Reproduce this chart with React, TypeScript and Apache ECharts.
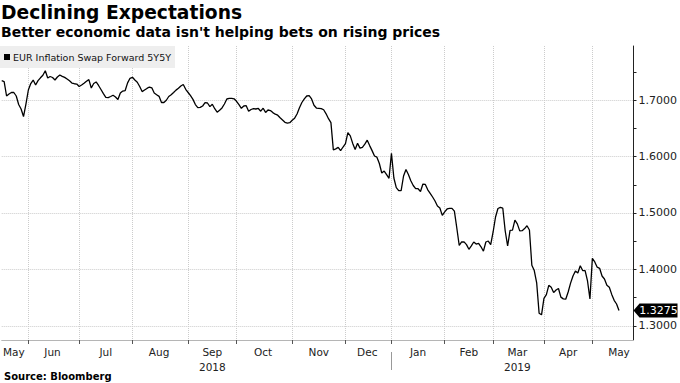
import React, { useEffect, useRef } from 'react';
import * as echarts from 'echarts';

// ---------- data ----------
const SERIES_NAME = 'EUR Inflation Swap Forward 5Y5Y';
const TITLE = 'Declining Expectations';
const SUBTITLE = "Better economic data isn't helping bets on rising prices";
const SOURCE = 'Source: Bloomberg';

const FIRST_DAY = '2018-05-17';
const LAST_AXIS_DAY = '2019-05-27';
const HOLIDAYS = ['2018-12-25', '2018-12-26', '2019-01-01', '2019-04-19', '2019-04-22', '2019-05-01'];
const MONTH_NAMES = ['Jan', 'Feb', 'Mar', 'Apr', 'May', 'Jun', 'Jul', 'Aug', 'Sep', 'Oct', 'Nov', 'Dec'];
const YEAR_LABEL_MONTHS: Record<string, string> = { '2018-09': '2018', '2019-03': '2019' };
const YEAR_BREAK_MONTH = '2019-01';

const Y_MIN = 1.2752;
const Y_MAX = 1.7956;
const Y_LABELS = [1.3, 1.4, 1.5, 1.6, 1.7];
const Y_TICKS = [1.3, 1.35, 1.4, 1.45, 1.5, 1.55, 1.6, 1.65, 1.7, 1.75];

// daily values, one per trading day from 2018-05-17
const valuesMayAug2018 = [
  1.7342, 1.7327, 1.7071, 1.7106, 1.7133, 1.7133, 1.7071, 1.6920, 1.6841, 1.6708,
  1.6929, 1.7177, 1.7292, 1.7354, 1.7265, 1.7342, 1.7393, 1.7439, 1.7519, 1.7389,
  1.7416, 1.7398, 1.7354, 1.7407, 1.7442, 1.7419, 1.7400, 1.7372, 1.7340, 1.7301,
  1.7288, 1.7283, 1.7239, 1.7265, 1.7296, 1.7331, 1.7361, 1.7212, 1.7292, 1.7319,
  1.7257, 1.7186, 1.7113, 1.7048, 1.7042, 1.7062, 1.7085, 1.7053, 1.7009, 1.7124,
  1.7159, 1.7168, 1.7304, 1.7384, 1.7402, 1.7354, 1.7315, 1.7239, 1.7149, 1.7177,
  1.7205, 1.7230, 1.7216, 1.7124, 1.7094, 1.7065,
];
const valuesAugDec2018 = [
  1.6956, 1.6956, 1.6996, 1.7062,
  1.7092, 1.7133, 1.7175, 1.7207, 1.7248, 1.7274, 1.7189, 1.7133, 1.7076, 1.7011,
  1.6919, 1.6865, 1.6869, 1.6894, 1.6952, 1.6947, 1.6883, 1.6924, 1.6846, 1.6784,
  1.6819, 1.6860, 1.6929, 1.7018, 1.7028, 1.7030, 1.7021, 1.6977, 1.6917, 1.6853,
  1.6894, 1.6899, 1.6802, 1.6832, 1.6846, 1.6841, 1.6850, 1.6802, 1.6855, 1.6780,
  1.6823, 1.6814, 1.6777, 1.6749, 1.6731, 1.6685, 1.6646, 1.6605, 1.6591, 1.6598,
  1.6641, 1.6678, 1.6752, 1.6864, 1.6956, 1.7019, 1.7071, 1.7078, 1.7018, 1.6908,
  1.6858, 1.6853, 1.6848, 1.6827, 1.6756, 1.6669, 1.6600, 1.6115, 1.6136, 1.6161,
  1.6104, 1.6168, 1.6228, 1.6423, 1.6365, 1.6232, 1.6124, 1.6234, 1.6149, 1.6163,
  1.6218, 1.6289, 1.6193, 1.6104, 1.6009, 1.5988, 1.5876, 1.5708, 1.5743, 1.5681,
  1.5614,
];
const valuesJanMar2019 = [
  1.6057, 1.5619, 1.5448, 1.5395, 1.5395, 1.5655, 1.5770, 1.5681, 1.5570,
  1.5487, 1.5430, 1.5430, 1.5381, 1.5513, 1.5506, 1.5411, 1.5347, 1.5283, 1.5212,
  1.5124, 1.5089, 1.4958, 1.5021, 1.5071, 1.5083, 1.5083, 1.5032, 1.4735, 1.4425,
  1.4487, 1.4490, 1.4441, 1.4358, 1.4419, 1.4487, 1.4451, 1.4464, 1.4402, 1.4324,
  1.4487, 1.4504, 1.4442, 1.4664, 1.4929, 1.5080, 1.5099, 1.5085, 1.4681, 1.4416,
  1.4694, 1.4696, 1.4874, 1.4807, 1.4683, 1.4687, 1.4724, 1.4774, 1.4699, 1.4076,
  1.3982, 1.3761, 1.3227,
];
const valuesAprMay2019 = [
  1.3198, 1.3490, 1.3556, 1.3720, 1.3685, 1.3591, 1.3637,
  1.3664, 1.3511, 1.3480, 1.3474, 1.3602, 1.3758, 1.3885, 1.3973, 1.3938, 1.4067,
  1.3982, 1.3979, 1.3797, 1.3478, 1.4198, 1.4133, 1.4041, 1.4021, 1.3885, 1.3832,
  1.3722, 1.3685, 1.3559, 1.3455, 1.3389, 1.3275,
];

const FONT = '"DejaVu Sans", "Liberation Sans", sans-serif';

function tradingDays(): string[] {
  const out: string[] = [];
  let t = Date.parse(FIRST_DAY + 'T00:00:00Z');
  const end = Date.parse(LAST_AXIS_DAY + 'T00:00:00Z');
  while (t <= end) {
    const d = new Date(t);
    const dow = d.getUTCDay();
    const s = d.toISOString().slice(0, 10);
    if (dow !== 0 && dow !== 6 && !HOLIDAYS.includes(s)) out.push(s);
    t += 86400000;
  }
  return out;
}

export default function App() {
  const ref = useRef<HTMLDivElement>(null);

  useEffect(() => {
    if (!ref.current) return;
    const chart = echarts.init(ref.current, null, { renderer: 'svg' });

    const cats = tradingDays();
    const N = cats.length;
    const values = [...valuesMayAug2018, ...valuesAugDec2018, ...valuesJanMar2019, ...valuesAprMay2019];
    const last = values[values.length - 1];

    const monthStarts: number[] = [];
    for (let i = 1; i < N; i++) {
      if (cats[i].slice(0, 7) !== cats[i - 1].slice(0, 7)) monthStarts.push(i);
    }
    const monthStartSet = new Set(monthStarts);
    const segStarts = [0, ...monthStarts];
    const labelMap = new Map<number, string>();
    segStarts.forEach((s, k) => {
      const e = k + 1 < segStarts.length ? segStarts[k + 1] : s + 22;
      const mid = Math.min(Math.floor((s + e) / 2), N - 1);
      const ym = cats[s].slice(0, 7);
      const m = parseInt(cats[s].slice(5, 7), 10) - 1;
      const yr = YEAR_LABEL_MONTHS[ym];
      labelMap.set(mid, MONTH_NAMES[m] + (yr ? '\n' + yr : ''));
    });
    const yearBreakIdx = cats.findIndex((c) => c.slice(0, 7) === YEAR_BREAK_MONTH);

    chart.setOption({
      animation: false,
      backgroundColor: '#fff',
      textStyle: { fontFamily: FONT },
      graphic: [
        { type: 'text', left: 1, top: 3, style: { text: TITLE, font: 'bold 18.7px "DejaVu Sans"', fill: '#000' } },
        { type: 'text', left: 1, top: 25, style: { text: SUBTITLE, font: 'bold 14px "DejaVu Sans"', fill: '#000' } },
        { type: 'text', left: 4, top: 371, style: { text: SOURCE, font: 'bold 10px "DejaVu Sans"', fill: '#000' } },
      ],
      legend: {
        left: 0,
        top: 46,
        padding: [6, 4, 6, 4],
        backgroundColor: '#eeeeee',
        itemWidth: 6,
        itemHeight: 6,
        icon: 'rect',
        selectedMode: false,
        textStyle: { fontSize: 9.5, color: '#111', fontFamily: FONT, padding: [0, 0, 0, -2] },
        data: [{ name: SERIES_NAME, itemStyle: { color: '#000' } }],
      },
      grid: { left: 0, right: 45, top: 46, bottom: 43, containLabel: false },
      xAxis: [
        {
          type: 'category',
          data: cats,
          boundaryGap: false,
          axisLine: { lineStyle: { color: '#b5b5b5', width: 1 } },
          axisTick: { interval: (i: number) => monthStartSet.has(i), length: 4, lineStyle: { color: '#555' } },
          splitLine: {
            show: true,
            interval: (i: number) => monthStartSet.has(i),
            lineStyle: { type: 'dotted', color: '#cccccc', width: 1 },
          },
          axisLabel: {
            interval: (i: number) => labelMap.has(i),
            formatter: (_v: string, i: number) => labelMap.get(i) ?? '',
            fontSize: 10.5,
            color: '#222',
            margin: 4,
            lineHeight: 15,
            fontFamily: FONT,
          },
        },
        {
          type: 'category',
          data: cats,
          boundaryGap: false,
          position: 'bottom',
          offset: 12,
          axisLine: { show: false },
          axisTick: { interval: (i: number) => i === yearBreakIdx, length: 18, lineStyle: { color: '#999' } },
          axisLabel: { show: false },
          splitLine: { show: false },
        },
      ],
      yAxis: [
        {
          type: 'value',
          position: 'right',
          min: Y_MIN,
          max: Y_MAX,
          axisLine: { show: true, lineStyle: { color: '#222', width: 1 } },
          axisTick: { show: true, customValues: Y_TICKS, length: 3, lineStyle: { color: '#222' } },
          axisLabel: {
            customValues: Y_LABELS,
            formatter: (v: number) => v.toFixed(4),
            fontSize: 11,
            color: '#222',
            margin: 5,
            fontFamily: FONT,
          },
          splitLine: { show: false },
        },
        {
          type: 'value',
          position: 'right',
          min: Y_MIN,
          max: Y_MAX,
          axisLine: { show: false },
          axisTick: { show: false, customValues: Y_LABELS },
          axisLabel: { show: false, customValues: Y_LABELS },
          splitLine: { show: true, lineStyle: { type: 'dotted', color: '#cccccc', width: 1 } },
        },
      ],
      series: [
        {
          name: SERIES_NAME,
          type: 'line',
          xAxisIndex: 0,
          yAxisIndex: 0,
          data: values,
          symbol: 'none',
          itemStyle: { color: '#000' },
          lineStyle: { color: '#000', width: 1.3 },
          markPoint: {
            silent: true,
            symbol: 'path://M0,7L6,0L44,0L44,14L6,14Z',
            symbolSize: [44, 14],
            symbolOffset: [22, 0],
            itemStyle: { color: '#000' },
            label: {
              show: true,
              position: 'inside',
              offset: [3, 0],
              color: '#fff',
              fontSize: 11,
              fontFamily: FONT,
              formatter: () => last.toFixed(4),
            },
            data: [{ coord: [cats[N - 1], last], value: last }],
          },
        },
      ],
    });

    return () => chart.dispose();
  }, []);

  return <div ref={ref} style={{ position: 'fixed', left: 0, top: 0, width: 680, height: 383 }} />;
}
